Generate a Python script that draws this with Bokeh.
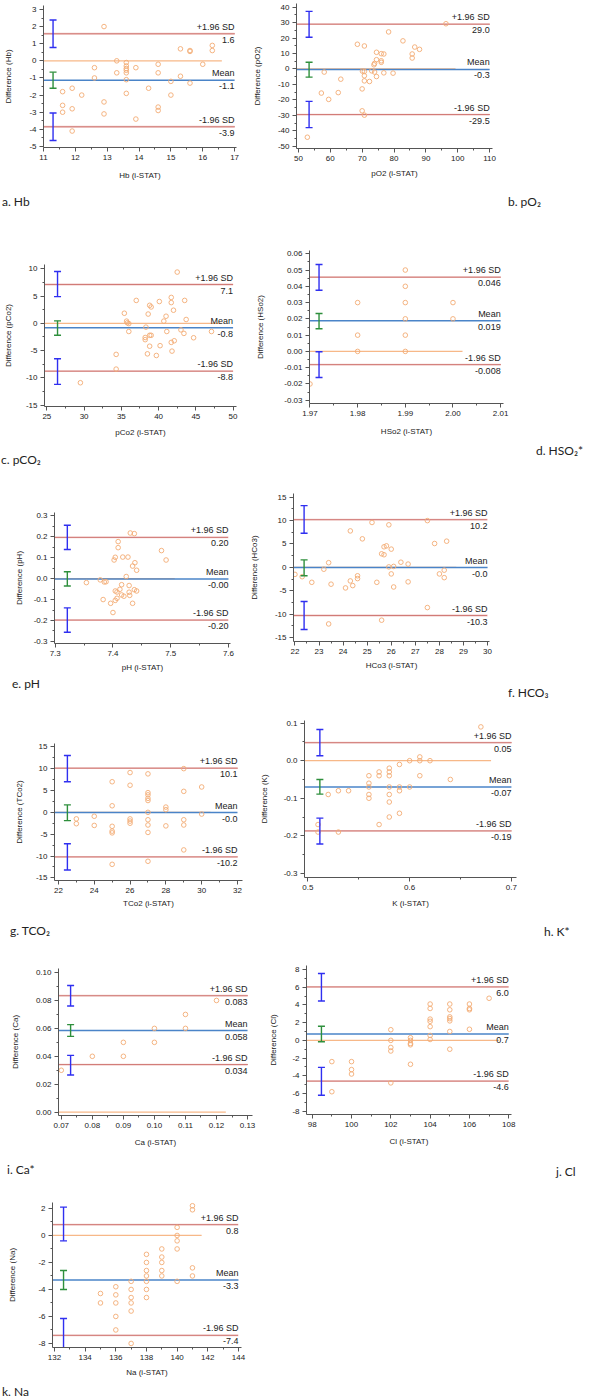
from bokeh.plotting import figure
from bokeh.layouts import column, row
from bokeh.models import (ColumnDataSource, Whisker, TeeHead, Label, Div, Spacer,
                          FixedTicker, PrintfTickFormatter, Range1d)
from bokeh.embed import file_html
from bokeh.resources import INLINE

# ---------------------------------------------------------------- data
# Each analyte: x = i-STAT value, y = difference between methods,
# lim = (+1.96 SD, mean, -1.96 SD), ci = 95% CI of those three lines.

hb_x = [12.9, 13.3, 12.6, 12.6, 13.3, 13.6, 13.6, 13.6, 13.6, 13.6, 13.6, 13.6, 13.9, 14.3,
        14.6, 14.6, 14.6, 14.6, 13.9, 12.9, 12.9, 11.6, 11.6, 11.6, 11.9, 11.9, 11.9, 12.2,
        15.0, 15.0, 15.3, 15.3, 15.6, 15.6, 15.6, 16.0, 16.3, 16.3]
hb_y = [2.0, 0.0, -0.4, -1.0, -0.7, -0.1, -0.3, -0.45, -0.55, -0.7, -1.1, -1.9, -0.4, -1.6,
        -0.2, -0.7, -2.7, -2.9, -3.4, -2.4, -3.1, -1.8, -2.6, -3.0, -1.6, -2.8, -4.1, -2.0,
        -1.2, -2.0, 0.7, -0.9, 0.6, 0.55, -1.3, -0.2, 0.9, 0.6]
hb_lim = [1.58, -1.13, -3.85]
hb_ci = [[0.78, 2.38], [-1.60, -0.66], [-4.65, -3.05]]
hb_xticks = [11, 12, 13, 14, 15, 16, 17]
hb_yticks = [-5, -4, -3, -2, -1, 0, 1, 2, 3]

po2_x = [96.3, 78.3, 82.8, 68.5, 70.7, 86.5, 88.0, 74.5, 76.0, 76.8, 85.7, 85.7, 74.5, 76.0,
         76.0, 73.9, 73.7, 58.1, 70.1, 70.7, 73.0, 73.9, 76.8, 79.7, 70.7, 74.5, 63.3, 70.7,
         72.3, 70.0, 57.2, 62.5, 59.5, 70.0, 70.7, 52.8]
po2_y = [29.3, 24.0, 18.2, 16.0, 14.9, 14.2, 12.7, 10.8, 9.9, 9.7, 9.7, 7.1, 6.0, 5.3,
         4.3, 3.6, 2.7, -2.0, -1.4, -1.6, -1.2, -2.0, -2.5, -2.7, -4.4, -4.9, -6.6, -7.7,
         -8.1, -12.9, -15.6, -15.3, -19.7, -27.1, -29.9, -44.2]
po2_lim = [29.0, -0.3, -29.5]
po2_ci = [[20.5, 37.3], [-5.3, 4.4], [-38.0, -21.0]]
po2_xticks = [50, 60, 70, 80, 90, 100, 110]
po2_yticks = [-50, -40, -30, -20, -10, 0, 10, 20, 30, 40]

pco2_x = [42.5, 41.7, 41.7, 43.5, 37.0, 40.1, 38.8, 39.0, 42.0, 35.4, 38.6, 41.0, 43.7, 35.7,
          35.8, 36.0, 40.7, 38.3, 43.0, 36.0, 41.1, 47.1, 43.4, 38.8, 39.0, 38.2, 38.2, 44.7,
          42.1, 41.7, 38.8, 40.2, 41.8, 34.3, 38.5, 39.7, 34.3, 29.5]
pco2_y = [9.4, 4.75, 3.8, 4.2, 4.2, 4.0, 3.3, 3.0, 2.4, 1.85, 1.7, 1.3, 0.7, 0.4,
          0.1, -0.05, 0.4, -0.7, -1.2, -1.5, -1.5, -1.5, -1.85, -2.2, -2.2, -2.6, -3.0, -2.65,
          -3.2, -3.5, -4.2, -4.1, -5.1, -5.7, -5.6, -5.9, -8.4, -10.9]
pco2_lim = [7.12, -0.83, -8.78]
pco2_ci = [[4.9, 9.5], [-2.2, 0.45], [-11.2, -6.5]]
pco2_xticks = [25, 30, 35, 40, 45, 50]
pco2_yticks = [-15, -10, -5, 0, 5, 10]

hso2_x = [1.99, 1.99, 1.98, 1.99, 2.00, 1.99, 2.00, 1.98, 1.99, 1.98, 1.99, 1.97]
hso2_y = [0.05, 0.04, 0.03, 0.03, 0.03, 0.02, 0.02, 0.01, 0.01, 0.0, 0.0, -0.02]
hso2_lim = [0.0456, 0.0188, -0.0081]
hso2_ci = [[0.0376, 0.0534], [0.0139, 0.0233], [-0.0160, -0.0002]]
hso2_xticks = [1.97, 1.98, 1.99, 2.00, 2.01]
hso2_yticks = [-0.03, -0.02, -0.01, 0.0, 0.01, 0.02, 0.03, 0.04, 0.05, 0.06]

ph_x = [7.430, 7.437, 7.409, 7.409, 7.484, 7.492, 7.404, 7.402, 7.417, 7.426, 7.438, 7.434,
        7.441, 7.423, 7.354, 7.378, 7.385, 7.388, 7.415, 7.412, 7.428, 7.437, 7.441, 7.404,
        7.407, 7.428, 7.429, 7.415, 7.419, 7.407, 7.404, 7.383, 7.396, 7.434, 7.400]
ph_y = [0.218, 0.215, 0.177, 0.148, 0.134, 0.089, 0.102, 0.089, 0.103, 0.103, 0.076, 0.060,
        0.040, 0.010, -0.019, -0.006, -0.016, -0.015, -0.029, -0.051, -0.033, -0.053, -0.059,
        -0.059, -0.064, -0.065, -0.080, -0.078, -0.084, -0.094, -0.104, -0.100, -0.118,
        -0.118, -0.162]
ph_lim = [0.197, -0.002, -0.198]
ph_ci = [[0.139, 0.255], [-0.035, 0.033], [-0.256, -0.140]]
ph_xticks = [7.3, 7.4, 7.5, 7.6]
ph_yticks = [-0.3, -0.2, -0.1, 0.0, 0.1, 0.2, 0.3]

hco3_x = [25.2, 25.9, 27.5, 24.3, 24.8, 27.8, 28.3, 25.7, 25.8, 26.0, 25.6, 25.7, 26.4, 26.7,
          23.4, 25.9, 26.1, 23.2, 28.2, 28.0, 26.0, 28.2, 24.6, 24.6, 24.3, 22.7, 23.5, 25.4,
          26.7, 24.4, 24.1, 26.1, 27.5, 25.6, 23.4, 22.0, 22.3]
hco3_y = [9.6, 9.1, 10.0, 7.8, 6.1, 5.1, 5.6, 4.4, 4.6, 3.9, 2.9, 2.7, 1.1, 0.7,
          1.0, 0.1, 0.2, -0.4, -0.6, -1.4, -1.4, -2.2, -1.8, -2.4, -2.9, -3.2, -3.6, -3.2,
          -3.1, -3.9, -4.4, -4.2, -8.6, -11.3, -12.1, -1.5, -2.0]
hco3_lim = [10.2, -0.04, -10.3]
hco3_ci = [[7.3, 13.2], [-1.8, 1.6], [-13.3, -7.3]]
hco3_xticks = [22, 23, 24, 25, 26, 27, 28, 29, 30]
hco3_yticks = [-15, -10, -5, 0, 5, 10, 15]

tco2_x = [23, 23, 24, 24, 25, 25, 25, 25, 25, 26, 26, 26, 26, 26,
          27, 27, 27, 27, 27, 27, 27, 27, 27, 27, 25, 28, 28, 28,
          29, 29, 29, 29, 29, 30, 30]
tco2_y = [-1.5, -2.6, -0.9, -3.0, 7.0, 1.5, -3.2, -4.3, -4.7, 9.1, 6.2, -1.5, -2.0, -2.5,
          8.8, 4.5, 4.0, 3.2, 2.7, 0.0, -1.7, -2.9, -4.6, -11.2, -11.9, 1.2, 0.6, -3.1,
          10.0, 4.8, -1.7, -2.9, -8.6, 5.8, -0.4]
tco2_lim = [10.1, -0.04, -10.2]
tco2_ci = [[7.0, 13.0], [-1.9, 1.7], [-13.2, -7.2]]
tco2_xticks = [22, 24, 26, 28, 30, 32]
tco2_yticks = [-15, -10, -5, 0, 5, 10, 15]

k_x = [0.67, 0.61, 0.61, 0.62, 0.60, 0.59, 0.58, 0.58, 0.58, 0.57, 0.57, 0.56, 0.61, 0.64,
       0.56, 0.56, 0.58, 0.59, 0.59, 0.60, 0.53, 0.54, 0.52, 0.56, 0.56, 0.58, 0.58, 0.59,
       0.58, 0.57, 0.51, 0.51, 0.53]
k_y = [0.09, 0.01, 0.0, 0.0, 0.0, -0.01, -0.02, -0.03, -0.04, -0.03, -0.04, -0.04, -0.04,
       -0.05, -0.06, -0.07, -0.07, -0.07, -0.08, -0.07, -0.08, -0.08, -0.09, -0.09, -0.10,
       -0.09, -0.11, -0.14, -0.15, -0.17, -0.17, -0.19, -0.19]
k_lim = [0.048, -0.07, -0.187]
k_ci = [[0.013, 0.083], [-0.089, -0.050], [-0.222, -0.153]]
k_xticks = [0.5, 0.6, 0.7]
k_yticks = [-0.3, -0.2, -0.1, 0.0, 0.1]

ca_x = [0.07, 0.08, 0.09, 0.09, 0.10, 0.10, 0.11, 0.11, 0.12]
ca_y = [0.03, 0.04, 0.05, 0.04, 0.06, 0.05, 0.07, 0.06, 0.08]
ca_lim = [0.0834, 0.0584, 0.0341]
ca_ci = [[0.0760, 0.0907], [0.0543, 0.0627], [0.0266, 0.0407]]
ca_xticks = [0.07, 0.08, 0.09, 0.10, 0.11, 0.12, 0.13]
ca_yticks = [0.0, 0.02, 0.04, 0.06, 0.08, 0.10]

cl_x = [99, 99, 100, 100, 100, 102, 102, 102, 102, 102, 103, 103, 103, 103, 103,
        104, 104, 104, 104, 104, 104, 104, 105, 105, 105, 105, 105, 105, 105,
        106, 106, 106, 106, 107]
cl_y = [-2.4, -5.8, -2.4, -3.3, -3.8, 1.2, 0.0, -0.8, -1.2, -4.8, 0.3, 0.0, -0.35, -0.5, -2.7,
        4.1, 3.6, 2.4, 2.15, 1.55, 0.55, 0.1, 4.1, 3.45, 2.65, 2.45, 2.2, 1.0, -1.0,
        4.1, 3.6, 3.45, 1.25, 4.75]
cl_lim = [6.03, 0.72, -4.6]
cl_ci = [[4.45, 7.55], [-0.15, 1.6], [-6.2, -3.05]]
cl_xticks = [98, 100, 102, 104, 106, 108]
cl_yticks = [-8, -6, -4, -2, 0, 2, 4, 6, 8]

na_x = [135, 135, 136, 136, 136, 136, 136, 137, 137, 137, 137, 137, 137,
        138, 138, 138, 138, 138, 138, 138, 139, 139, 139, 139, 139,
        140, 140, 140, 140, 140, 141, 141, 141, 141]
na_y = [-4.3, -5.0, -3.8, -4.4, -5.0, -6.0, -7.0, -3.4, -4.0, -4.6, -5.0, -5.6, -8.0,
        -1.4, -2.0, -2.6, -3.0, -3.4, -4.0, -4.6, -1.0, -1.6, -2.0, -2.6, -3.0,
        0.6, 0.0, -0.4, -1.0, -3.4, 2.2, 1.9, -2.4, -3.0]
na_lim = [0.8, -3.3, -7.4]
na_ci = [[-0.4, 2.1], [-4.0, -2.6], [-8.65, -6.15]]
na_xticks = [132, 134, 136, 138, 140, 142, 144]
na_yticks = [-8, -6, -4, -2, 0, 2]

LIMIT_NAMES = ["+1.96 SD", "Mean", "-1.96 SD"]

# ---------------------------------------------------------------- panel setup
# frame = (left, right, top, bottom) on the page in px; cap = caption position on the page
PANELS = {
    "a": dict(x=hb_x, y=hb_y, lim=hb_lim, ci=hb_ci, dec=1, xticks=hb_xticks, yticks=hb_yticks,
              xfmt="%d", yfmt="%d", xlabel="Hb (i-STAT)", ylabel="Difference (Hb)",
              caption="a. Hb", xr=(11, 17.06), yr=(-5.06, 3.23), frame=(43, 236, 5, 147),
              ci_x=11.3, xls=8, yls=13, cap=(2, 202)),
    "b": dict(x=po2_x, y=po2_y, lim=po2_lim, ci=po2_ci, dec=1, xticks=po2_xticks, yticks=po2_yticks,
              xfmt="%d", yfmt="%d", xlabel="pO2 (i-STAT)", ylabel="Difference (pO2)",
              caption="b. pO\u2082", xr=(49.4, 110.9), yr=(-51.5, 42.4), frame=(296, 492, 3, 148),
              ci_x=53.35, xls=5, yls=13, cap=(508, 202)),
    "c": dict(x=pco2_x, y=pco2_y, lim=pco2_lim, ci=pco2_ci, dec=1, xticks=pco2_xticks, yticks=pco2_yticks,
              xfmt="%d", yfmt="%d", xlabel="pCo2 (i-STAT)", ylabel="Difference (pCo2)",
              caption="c. pCO\u2082", xr=(24.68, 50.46), yr=(-15.26, 10.79), frame=(44, 236, 264, 406),
              ci_x=26.43, xls=6, yls=10, cap=(1, 460)),
    "d": dict(x=hso2_x, y=hso2_y, lim=hso2_lim, ci=hso2_ci, dec=3, xticks=hso2_xticks, yticks=hso2_yticks,
              xfmt="%.2f", yfmt="%.2f", xlabel="HSo2 (i-STAT)", ylabel="Difference (HSo2)",
              caption="d. HSO\u2082*", xr=(1.9699, 2.0106), yr=(-0.032, 0.062), frame=(309, 503, 250, 403),
              ci_x=1.9719, xls=8, yls=16, cap=(536, 451)),
    "e": dict(x=ph_x, y=ph_y, lim=ph_lim, ci=ph_ci, dec=2, xticks=ph_xticks, yticks=ph_yticks,
              xfmt="%.1f", yfmt="%.1f", xlabel="pH (i-STAT)", ylabel="Difference (pH)",
              caption="e. pH", xr=(7.2988, 7.6035), yr=(-0.31, 0.316), frame=(54, 230, 512, 643),
              ci_x=7.321, xls=4, yls=7, cap=(12, 684)),
    "f": dict(x=hco3_x, y=hco3_y, lim=hco3_lim, ci=hco3_ci, dec=1, xticks=hco3_xticks, yticks=hco3_yticks,
              xfmt="%d", yfmt="%d", xlabel="HCo3 (i-STAT)", ylabel="Difference (HCo3)",
              caption="f. HCO\u2083", xr=(21.94, 30.08), yr=(-15.86, 15.8), frame=(293, 489, 493, 641),
              ci_x=22.38, xls=4, yls=13, cap=(508, 693)),
    "g": dict(x=tco2_x, y=tco2_y, lim=tco2_lim, ci=tco2_ci, dec=1, xticks=tco2_xticks, yticks=tco2_yticks,
              xfmt="%d", yfmt="%d", xlabel="TCo2 (i-STAT)", ylabel="Difference (TCo2)",
              caption="g. TCO\u2082", xr=(21.78, 32.28), yr=(-15.6, 15.75), frame=(54, 242, 743, 880),
              ci_x=22.5, xls=3, yls=9, cap=(10, 931)),
    "h": dict(x=k_x, y=k_y, lim=k_lim, ci=k_ci, dec=2, xticks=k_xticks, yticks=k_yticks,
              xfmt="%.1f", yfmt="%.1f", xlabel="K (i-STAT)", ylabel="Difference (K)",
              caption="h. K*", xr=(0.4967, 0.705), yr=(-0.311, 0.107), frame=(304, 516, 720, 877),
              ci_x=0.5118, xls=6, yls=12, cap=(544, 932)),
    "i": dict(x=ca_x, y=ca_y, lim=ca_lim, ci=ca_ci, dec=3, xticks=ca_xticks, yticks=ca_yticks,
              xfmt="%.2f", yfmt="%.2f", xlabel="Ca (i-STAT)", ylabel="Difference (Ca)",
              caption="i. Ca*", xr=(0.0691, 0.1316), yr=(-0.0024, 0.1029), frame=(58, 252, 968, 1115),
              ci_x=0.0730, xls=7, yls=13, cap=(7, 1170)),
    "j": dict(x=cl_x, y=cl_y, lim=cl_lim, ci=cl_ci, dec=1, xticks=cl_xticks, yticks=cl_yticks,
              xfmt="%d", yfmt="%d", xlabel="Cl (i-STAT)", ylabel="Difference (Cl)",
              caption="j. Cl", xr=(97.71, 108.14), yr=(-8.37, 8.45), frame=(306, 511, 965, 1114),
              ci_x=98.47, xls=7, yls=11, cap=(556, 1172)),
    "k": dict(x=na_x, y=na_y, lim=na_lim, ci=na_ci, dec=1, xticks=na_xticks, yticks=na_yticks,
              xfmt="%d", yfmt="%d", xlabel="Na (i-STAT)", ylabel="Difference (Na)",
              caption="k. Na", xr=(131.87, 144.2), yr=(-8.3, 2.44), frame=(52, 241, 1202, 1347),
              ci_x=132.59, xls=5, yls=18, cap=(2, 1392)),
}

# (row top, row height, column split, left panel, right panel)
ROWS = [(0, 210, 248, "a", "b"), (210, 258, 248, "c", "d"), (468, 232, 245, "e", "f"),
        (700, 240, 254, "g", "h"), (940, 240, 260, "i", "j"), (1180, 220, 592, "k", None)]

PAGE_W = 592
CAP_HALF = 8          # half of the caption line height

AXIS_COLOR = "#555555"
TEXT_COLOR = "#222222"
POINT_COLOR = "#f3ab74"
ZERO_COLOR = "#f7b888"
MEAN_COLOR = "#4a84c8"
LIMIT_COLOR = "#b3302b"
LIMIT_HALO = "#efc6c3"
CI_LIMIT = "#2f2ff0"
CI_MEAN = "#2e8f3c"
FONT = "Liberation Sans"


def minor_of(ticks):
    return [(a + b) / 2 for a, b in zip(ticks[:-1], ticks[1:])]


def style_axis(ax, ticks, fmt, label, standoff):
    ax.ticker = FixedTicker(ticks=ticks, minor_ticks=minor_of(ticks))
    ax.formatter = PrintfTickFormatter(format=fmt)
    ax.axis_label = label
    ax.axis_label_standoff = standoff
    ax.axis_label_text_font = FONT
    ax.axis_label_text_font_size = "8px"
    ax.axis_label_text_font_style = "normal"
    ax.axis_label_text_color = TEXT_COLOR
    ax.major_label_text_font = FONT
    ax.major_label_text_font_size = "8px"
    ax.major_label_text_color = TEXT_COLOR
    ax.major_label_standoff = 3
    ax.axis_line_color = AXIS_COLOR
    ax.major_tick_line_color = AXIS_COLOR
    ax.minor_tick_line_color = AXIS_COLOR
    ax.major_tick_in = 0
    ax.major_tick_out = 4
    ax.minor_tick_in = 0
    ax.minor_tick_out = 2


def make_panel(s, col_left, col_width, border_top, border_bottom):
    fl, fr, ft, fb = s["frame"]
    p = figure(width=col_width, height=border_top + (fb - ft) + border_bottom,
               x_range=Range1d(*s["xr"]), y_range=Range1d(*s["yr"]),
               min_border_left=fl - col_left, min_border_right=col_left + col_width - fr,
               min_border_top=border_top, min_border_bottom=border_bottom,
               output_backend="svg", toolbar_location=None)
    p.outline_line_color = None
    p.xgrid.visible = False
    p.ygrid.visible = False
    style_axis(p.xaxis[0], s["xticks"], s["xfmt"], s["xlabel"], s["xls"])
    style_axis(p.yaxis[0], s["yticks"], s["yfmt"], s["ylabel"], s["yls"])

    xs, ys = s["x"], s["y"]
    x_start, x_end = s["xr"][0], s["xticks"][-1]
    upper, mean, lower = s["lim"]

    # line of equality over the measured span
    zero_end = max(xs) + 0.05 * (s["xticks"][-1] - s["xticks"][0])
    p.segment(x0=[x_start], x1=[zero_end], y0=[0], y1=[0], line_color=ZERO_COLOR, line_width=1.3)

    # limits of agreement and mean difference
    for v in (upper, lower):
        p.segment(x0=[x_start], x1=[x_end], y0=[v], y1=[v], line_color=LIMIT_HALO, line_width=1.8)
        p.segment(x0=[x_start], x1=[x_end], y0=[v], y1=[v], line_color=LIMIT_COLOR,
                  line_width=1.0, line_dash="1 1")
    p.segment(x0=[x_start], x1=[x_end], y0=[mean], y1=[mean], line_color=MEAN_COLOR, line_width=1.5)

    # 95% confidence intervals
    ci_up, ci_mean, ci_low = s["ci"]
    lim_src = ColumnDataSource(dict(base=[s["ci_x"], s["ci_x"]],
                                    lower=[ci_up[0], ci_low[0]], upper=[ci_up[1], ci_low[1]]))
    mean_src = ColumnDataSource(dict(base=[s["ci_x"]], lower=[ci_mean[0]], upper=[ci_mean[1]]))
    for src, col in ((lim_src, CI_LIMIT), (mean_src, CI_MEAN)):
        p.add_layout(Whisker(source=src, base="base", lower="lower", upper="upper",
                             dimension="height", line_color=col, line_width=1.4, level="glyph",
                             upper_head=TeeHead(size=7, line_color=col, line_width=1.4),
                             lower_head=TeeHead(size=7, line_color=col, line_width=1.4)))

    p.scatter(xs, ys, marker="circle", size=4.6, fill_color=None,
              line_color=POINT_COLOR, line_width=0.9)

    for name, v in zip(LIMIT_NAMES, s["lim"]):
        p.add_layout(Label(x=x_end, y=v, text=name, text_align="right", text_baseline="bottom",
                           y_offset=2, text_font=FONT, text_font_size="9px", text_color=TEXT_COLOR))
        p.add_layout(Label(x=x_end, y=v, text=f"{v:.{s['dec']}f}", text_align="right",
                           text_baseline="top", y_offset=-3, text_font=FONT,
                           text_font_size="9px", text_color=TEXT_COLOR))
    return p


def make_caption(s, col_left, col_width, strip_top, strip_height):
    cx, cy = s["cap"]
    html = ('<div style="position:relative; left:{}px; top:{}px; line-height:{}px; '
            'font-family:Lato, sans-serif; font-size:12px; color:{}; white-space:nowrap">{}</div>'
            ).format(cx - col_left, cy - strip_top - CAP_HALF, 2 * CAP_HALF, TEXT_COLOR, s["caption"])
    return Div(text=html, width=col_width, height=strip_height, margin=(0, 0, 0, 0))


def stacked(items):
    kept = [it for it in items if it is not None]
    return kept[0] if len(kept) == 1 else column(*kept)


blocks = []
for top, height, split, left_key, right_key in ROWS:
    keys = [k for k in (left_key, right_key) if k]
    cols = [(0, split), (split, PAGE_W - split)][:len(keys)]
    strip_top = min(PANELS[k]["cap"][1] for k in keys) - CAP_HALF
    strip_h = top + height - strip_top
    # plots in one row share their top/bottom borders; the rest is taken up by spacers
    tops = [PANELS[k]["frame"][2] - top for k in keys]
    bottoms = [strip_top - PANELS[k]["frame"][3] for k in keys]
    bt, bb = min(tops), min(bottoms)
    cells = []
    for k, (cl, cw), t, b in zip(keys, cols, tops, bottoms):
        fig = make_panel(PANELS[k], cl, cw, bt, bb)
        above = Spacer(width=cw, height=t - bt) if t > bt else None
        below = Spacer(width=cw, height=b - bb) if b > bb else None
        cells.append(stacked([above, fig, below]))
    caps = [make_caption(PANELS[k], cl, cw, strip_top, strip_h) for k, (cl, cw) in zip(keys, cols)]
    blocks.append(row(*cells))
    blocks.append(row(*caps))

layout = column(*blocks)
open("out.html", "w").write(file_html(layout, INLINE))
